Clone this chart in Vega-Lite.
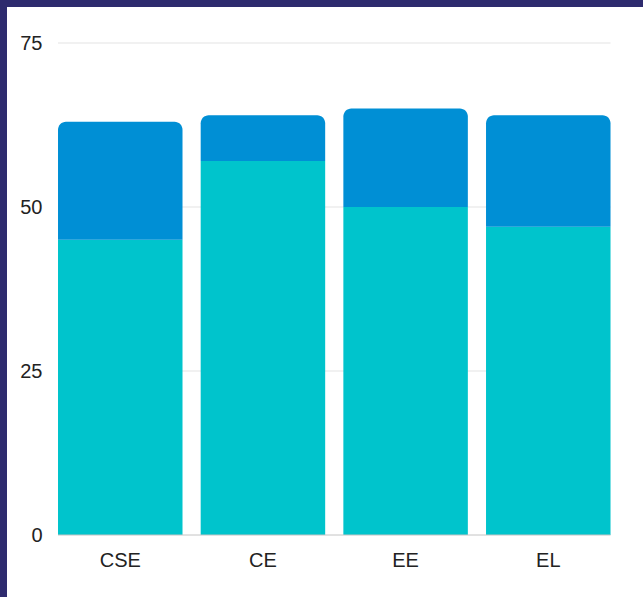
{
  "$schema": "https://vega.github.io/schema/vega-lite/v6.json",
  "width": 636,
  "height": 590,
  "autosize": {"type": "none"},
  "padding": {"left": 7, "top": 7, "right": 0, "bottom": 0},
  "background": "#2e2b6e",
  "config": {"view": {"fill": "white", "stroke": null}, "font": "Liberation Sans"},
  "datasets": {
    "bars": [
      {"cat": "CSE", "seg": "a", "value": 45},
      {"cat": "CSE", "seg": "b", "value": 18},
      {"cat": "CE", "seg": "a", "value": 57},
      {"cat": "CE", "seg": "b", "value": 7},
      {"cat": "EE", "seg": "a", "value": 50},
      {"cat": "EE", "seg": "b", "value": 15},
      {"cat": "EL", "seg": "a", "value": 47},
      {"cat": "EL", "seg": "b", "value": 17}
    ],
    "grid": [{"v": 0}, {"v": 25}, {"v": 50}, {"v": 75}]
  },
  "data": {"name": "bars"},
  "layer": [
    {
      "data": {"name": "grid"},
      "transform": [{"filter": "datum.v > 0"}],
      "mark": {"type": "rule", "color": "#e3e3e3", "strokeWidth": 1},
      "encoding": {
        "y": {"field": "v", "type": "quantitative", "scale": {"domain": [-9.451, 80.488], "nice": false, "zero": false}},
        "x": {"datum": "CSE", "type": "nominal", "bandPosition": 0},
        "x2": {"datum": "EL", "bandPosition": 1}
      }
    },
    {
      "transform": [
        {"stack": "value", "groupby": ["cat"], "sort": [{"field": "seg", "order": "ascending"}], "as": ["y0", "y1"]},
        {"filter": "datum.seg == 'a'"}
      ],
      "mark": {"type": "bar", "color": "#00c4cc"},
      "encoding": {
        "x": {
          "field": "cat", "type": "nominal",
          "scale": {"domain": ["CSE", "CE", "EE", "EL"], "paddingInner": 0.1274, "paddingOuter": 0.2926, "align": 0.611},
          "axis": {"orient": "bottom", "offset": -62, "domain": false, "ticks": false, "tickSize": 0, "labelPadding": 15, "labelFontSize": 20, "labelColor": "#222222", "labelAngle": 0, "labelAlign": "center", "labelBaseline": "top", "title": null, "zindex": 1}
        },
        "y": {
          "field": "y1", "type": "quantitative",
          "scale": {"domain": [-9.451, 80.488], "nice": false, "zero": false},
          "axis": {"orient": "left", "values": [0, 25, 50, 75], "offset": -35, "domain": false, "ticks": false, "tickSize": 0, "labelPadding": 0, "grid": false, "labelFontSize": 20, "labelColor": "#222222", "labelAlign": "right", "labelBaseline": "middle", "title": null, "zindex": 1}
        },
        "y2": {"field": "y0"}
      }
    },
    {
      "transform": [
        {"stack": "value", "groupby": ["cat"], "sort": [{"field": "seg", "order": "ascending"}], "as": ["y0", "y1"]},
        {"filter": "datum.seg == 'b'"}
      ],
      "mark": {"type": "bar", "color": "#008fd5", "cornerRadiusTopLeft": 8, "cornerRadiusTopRight": 8},
      "encoding": {
        "x": {"field": "cat", "type": "nominal"},
        "y": {"field": "y1", "type": "quantitative"},
        "y2": {"field": "y0"}
      }
    },
    {
      "data": {"name": "grid"},
      "transform": [{"filter": "datum.v == 0"}],
      "mark": {"type": "rule", "color": "#c4c4c4", "strokeWidth": 1},
      "encoding": {
        "y": {"field": "v", "type": "quantitative"},
        "x": {"datum": "CSE", "type": "nominal", "bandPosition": 0},
        "x2": {"datum": "EL", "bandPosition": 1}
      }
    }
  ]
}
